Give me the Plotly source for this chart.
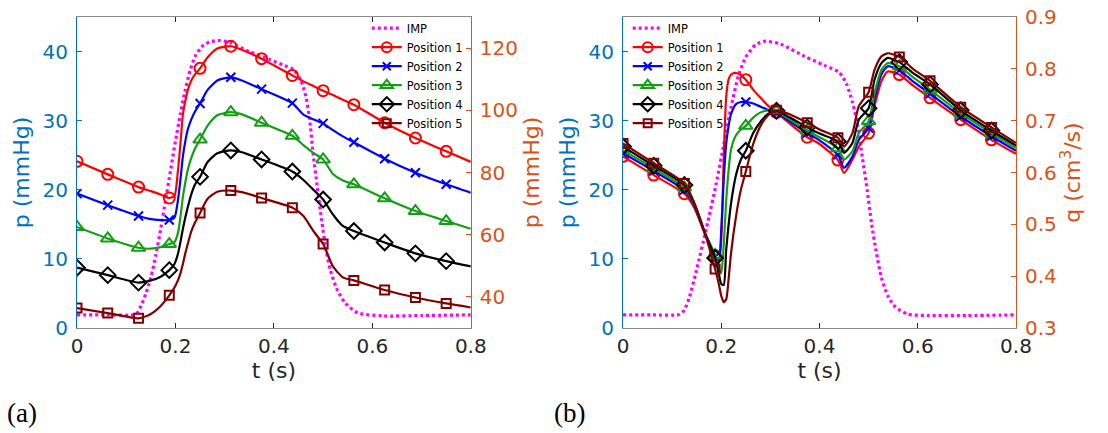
import plotly.graph_objects as go
import pandas as pd

# ---------------- data: panel (a) ----------------
T_A = [0, 0.0625, 0.125, 0.15, 0.17, 0.1875, 0.198, 0.205, 0.21, 0.215, 0.22, 0.225, 0.232, 0.24,
       0.25, 0.265, 0.285, 0.3125, 0.335, 0.375, 0.4375, 0.46, 0.48, 0.5, 0.52, 0.54, 0.5625,
       0.625, 0.6875, 0.75, 0.8]
P1_A = [83.6, 79.4, 75.3, 74.0, 72.9, 71.8, 72.5, 80.5, 89.0, 98.5, 103.0, 106.5, 109.5, 111.6,
        113.5, 117.0, 119.9, 120.6, 119.5, 116.6, 111.2, 109.3, 107.8, 106.3, 104.9, 103.4, 101.8,
        96.0, 91.1, 86.8, 83.4]
P2_A = [73.2, 69.5, 66.0, 65.0, 64.7, 64.7, 65.5, 71.0, 77.5, 85.0, 90.0, 93.8, 97.0, 99.7,
        102.2, 106.5, 109.6, 110.6, 109.6, 106.8, 102.3, 98.6, 97.1, 95.8, 93.6, 91.6, 89.7,
        84.4, 79.9, 76.2, 73.5]
P3_A = [62.5, 58.8, 55.8, 55.5, 56.0, 57.0, 57.6, 60.5, 65.5, 72.0, 76.8, 80.8, 84.6, 87.8,
        90.6, 95.0, 98.4, 99.4, 98.7, 96.0, 91.8, 88.8, 86.3, 84.2, 79.5, 77.4, 76.2,
        71.7, 67.6, 64.4, 61.9]
P4_A = [49.4, 47.0, 44.6, 45.3, 46.5, 48.6, 50.6, 53.8, 57.5, 61.8, 65.5, 68.8, 72.9, 76.2,
        78.6, 83.3, 86.2, 87.1, 86.5, 84.2, 80.3, 77.6, 74.5, 71.3, 66.5, 62.8, 61.2,
        57.5, 54.0, 51.5, 49.8]
P5_A = [36.4, 34.8, 33.1, 34.5, 37.1, 40.5, 43.0, 45.3, 47.5, 50.5, 54.0, 57.0, 61.0, 64.0,
        67.0, 71.5, 73.8, 74.2, 73.7, 71.8, 68.7, 66.0, 61.2, 57.0, 49.8, 46.3, 45.3,
        42.2, 39.8, 37.9, 36.6]
IMP_T_A = [0, 0.06, 0.12, 0.13, 0.14, 0.15, 0.16, 0.17, 0.18, 0.19, 0.2, 0.21, 0.22, 0.23, 0.24,
           0.255, 0.27, 0.29, 0.31, 0.35, 0.39, 0.42, 0.44, 0.455, 0.465, 0.472, 0.48, 0.488,
           0.497, 0.506, 0.515, 0.527, 0.545, 0.57, 0.62, 0.7, 0.8]
IMP_A = [1.9, 1.9, 2.0, 3.2, 5.0, 7.3, 10.5, 14.3, 18.5, 22.8, 27.0, 31.0, 34.5, 37.3, 39.3,
         40.8, 41.4, 41.6, 41.3, 40.0, 38.9, 38.0, 37.4, 35.8, 33.5, 30.5, 25.0, 20.5,
         15.6, 11.3, 8.3, 5.8, 3.6, 2.2, 1.75, 1.8, 1.9]

# ---------------- data: panel (b) ----------------
T_B = [0, 0.0625, 0.125, 0.145, 0.165, 0.1875, 0.195, 0.2, 0.205, 0.21, 0.215, 0.22, 0.23, 0.24,
       0.25, 0.265, 0.28, 0.295, 0.3125, 0.34, 0.375, 0.4, 0.4375, 0.45, 0.467, 0.48, 0.5,
       0.512, 0.526, 0.539, 0.5625, 0.59, 0.625, 0.6875, 0.75, 0.8]
Q1_B = [0.631, 0.595, 0.559, 0.532, 0.486, 0.440, 0.430, 0.470, 0.628, 0.745, 0.780, 0.789, 0.792,
        0.788, 0.779, 0.760, 0.744, 0.729, 0.716, 0.694, 0.668, 0.655, 0.624, 0.599, 0.625, 0.650,
        0.676, 0.728, 0.776, 0.795, 0.789, 0.768, 0.744, 0.702, 0.663, 0.636]
Q2_B = [0.637, 0.603, 0.566, 0.536, 0.486, 0.437, 0.426, 0.490, 0.585, 0.655, 0.690, 0.713, 0.732,
        0.736, 0.736, 0.733, 0.727, 0.721, 0.716, 0.698, 0.676, 0.662, 0.634, 0.609, 0.631, 0.663,
        0.686, 0.741, 0.789, 0.805, 0.797, 0.776, 0.752, 0.708, 0.670, 0.642]
Q3_B = [0.643, 0.608, 0.571, 0.538, 0.487, 0.441, 0.415, 0.406, 0.460, 0.545, 0.605, 0.645, 0.672,
        0.683, 0.690, 0.706, 0.716, 0.720, 0.718, 0.702, 0.681, 0.668, 0.647, 0.625, 0.641, 0.676,
        0.699, 0.753, 0.798, 0.811, 0.805, 0.784, 0.760, 0.714, 0.676, 0.647]
Q4_B = [0.650, 0.613, 0.576, 0.540, 0.488, 0.435, 0.405, 0.385, 0.383, 0.450, 0.500, 0.541, 0.595,
        0.625, 0.642, 0.676, 0.698, 0.713, 0.719, 0.706, 0.687, 0.675, 0.660, 0.638, 0.657, 0.702,
        0.724, 0.779, 0.811, 0.821, 0.813, 0.792, 0.770, 0.720, 0.681, 0.652]
Q5_B = [0.656, 0.618, 0.579, 0.542, 0.488, 0.414, 0.385, 0.362, 0.350, 0.355, 0.395, 0.445, 0.515,
        0.567, 0.602, 0.655, 0.690, 0.710, 0.720, 0.712, 0.696, 0.683, 0.667, 0.650, 0.676, 0.728,
        0.755, 0.798, 0.824, 0.830, 0.823, 0.800, 0.777, 0.726, 0.687, 0.657]
IMP_T_B = [0, 0.06, 0.115, 0.125, 0.135, 0.15, 0.17, 0.19, 0.205, 0.22, 0.235, 0.25, 0.27, 0.29,
           0.32, 0.37, 0.41, 0.44, 0.455, 0.467, 0.477, 0.487, 0.497, 0.506, 0.515, 0.526, 0.54,
           0.555, 0.58, 0.62, 0.7, 0.8]
IMP_B = [1.9, 1.9, 1.95, 2.6, 4.4, 8.5, 14.5, 21.0, 26.5, 32.0, 36.5, 39.2, 41.0, 41.5, 41.1,
         39.3, 38.0, 37.0, 35.3, 32.7, 29.6, 24.8, 20.0, 15.1, 11.2, 7.3, 4.5, 3.0, 2.0, 1.8,
         1.8, 1.9]

MARKER_T = [0, 0.0625, 0.125, 0.1875, 0.25, 0.3125, 0.375, 0.4375, 0.5, 0.5625, 0.625, 0.6875, 0.75]
NAMES = ["Position 1", "Position 2", "Position 3", "Position 4", "Position 5"]
X_TICKS = [0, 0.2, 0.4, 0.6, 0.8]
P_TICKS = [0, 10, 20, 30, 40]
PA_TICKS = [40, 60, 80, 100, 120]
Q_TICKS = [0.3, 0.4, 0.5, 0.6, 0.7, 0.8, 0.9]

# ---------------- styles ----------------
COLORS = ["#ff0000", "#0000ff", "#12a012", "#000000", "#800000"]
SYMBOLS = ["circle-open", "x-thin-open", "triangle-up-open", "diamond-open", "square-open"]
SIZES = [11, 9, 12, 12, 9]
BLUE = "#0072BD"
ORANGE = "#D95319"
DARK = "#262626"
FRAME = "#8a8a8a"
FONT = "DejaVu Sans"

fig = go.Figure()


def add_panel(t, series, imp_t, imp, xa, ya_left, ya_right, legend):
    fig.add_trace(go.Scatter(x=imp_t, y=imp, mode="lines", name="IMP",
                             line=dict(color="#ff00ff", width=3.2, dash="3px,3px", shape="spline", smoothing=0.6),
                             xaxis=xa, yaxis=ya_left, legend=legend, legendrank=1))
    for i, (name, vals) in enumerate(zip(NAMES, series)):
        df = pd.DataFrame({"t": t, "v": vals})
        mk = df[df["t"].isin(MARKER_T)]
        fig.add_trace(go.Scatter(x=df["t"], y=df["v"], mode="lines",
                                 line=dict(color=COLORS[i], width=2.2, shape="spline", smoothing=0.6),
                                 xaxis=xa, yaxis=ya_right, showlegend=False, hoverinfo="skip"))
        fig.add_trace(go.Scatter(x=mk["t"], y=mk["v"], mode="markers",
                                 marker=dict(symbol=SYMBOLS[i], size=SIZES[i], color=COLORS[i],
                                             line=dict(width=2, color=COLORS[i])),
                                 xaxis=xa, yaxis=ya_right, showlegend=False))
        fig.add_trace(go.Scatter(x=[None], y=[None], mode="lines+markers", name=name,
                                 line=dict(color=COLORS[i], width=2.2),
                                 marker=dict(symbol=SYMBOLS[i], size=SIZES[i] - 1, color=COLORS[i],
                                             line=dict(width=2, color=COLORS[i])),
                                 xaxis=xa, yaxis=ya_right, legend=legend, legendrank=2 + i))


add_panel(T_A, [P1_A, P2_A, P3_A, P4_A, P5_A], IMP_T_A, IMP_A, "x", "y", "y2", "legend")
add_panel(T_B, [Q1_B, Q2_B, Q3_B, Q4_B, Q5_B], IMP_T_B, IMP_B, "x2", "y3", "y4", "legend2")

W, H = 1108, 433
ML, MR, MT, MB = 77, 91.5, 17.3, 104.7
PW, PH = W - ML - MR, H - MT - MB


def px(x):
    return (x - ML) / PW


def py(y):
    return (H - MB - y) / PH


def xaxis(domain, anchor):
    return dict(domain=domain, anchor=anchor, range=[0, 0.8], tickvals=X_TICKS,
                showline=True, linecolor=FRAME, linewidth=1, mirror="ticks",
                ticks="inside", ticklen=5, tickcolor=DARK, showgrid=False, zeroline=False,
                tickfont=dict(family=FONT, size=20, color=DARK),
                title=dict(text="t (s)", font=dict(family=FONT, size=22, color=DARK), standoff=4),
                automargin=False)


def yaxis(anchor, rng, ticks, color, title, side="left", overlaying=None, fmt=None):
    d = dict(anchor=anchor, range=rng, tickvals=ticks, side=side, showline=True,
             linecolor=color, linewidth=1, ticks="inside", ticklen=5, tickcolor=color,
             showgrid=False, zeroline=False, color=color,
             tickfont=dict(family=FONT, size=20, color=color),
             title=dict(text=title, font=dict(family=FONT, size=22, color=color), standoff=6),
             automargin=False, domain=[0, 1], ticklabelstandoff=4)
    if overlaying:
        d["overlaying"] = overlaying
    if fmt:
        d["tickformat"] = fmt
    return d


legend_common = dict(bgcolor="rgba(0,0,0,0)", borderwidth=0,
                     font=dict(family=FONT, size=11.5, color="#000000"),
                     itemwidth=30, yanchor="top", tracegroupgap=0)

fig.update_layout(
    width=W, height=H, margin=dict(l=ML, r=MR, t=MT, b=MB),
    paper_bgcolor="white", plot_bgcolor="white",
    template="none",
    xaxis=xaxis([0, px(471)], "y"),
    yaxis=yaxis("x", [0, 45], P_TICKS, BLUE, "p (mmHg)"),
    yaxis2=yaxis("x", [30, 130], PA_TICKS, ORANGE, "p (mmHg)", side="right", overlaying="y"),
    xaxis2=xaxis([px(623.3), 1], "y3"),
    yaxis3=yaxis("x2", [0, 45], P_TICKS, BLUE, "p (mmHg)"),
    yaxis4=yaxis("x2", [0.3, 0.9], Q_TICKS, ORANGE, "q (cm<sup>3</sup>/s)", side="right",
                 overlaying="y3", fmt=".1f"),
    legend=dict(x=px(468), xanchor="right", y=py(14), **legend_common),
    legend2=dict(x=px(628), xanchor="left", y=py(14), **legend_common),
    annotations=[
        dict(text="(a)", x=px(5), y=py(413), xref="paper", yref="paper", xanchor="left",
             yanchor="middle", showarrow=False, font=dict(family="Liberation Serif", size=27, color="#000")),
        dict(text="(b)", x=px(552), y=py(413), xref="paper", yref="paper", xanchor="left",
             yanchor="middle", showarrow=False, font=dict(family="Liberation Serif", size=27, color="#000")),
    ],
    showlegend=True,
)

fig.write_html("out.html")
